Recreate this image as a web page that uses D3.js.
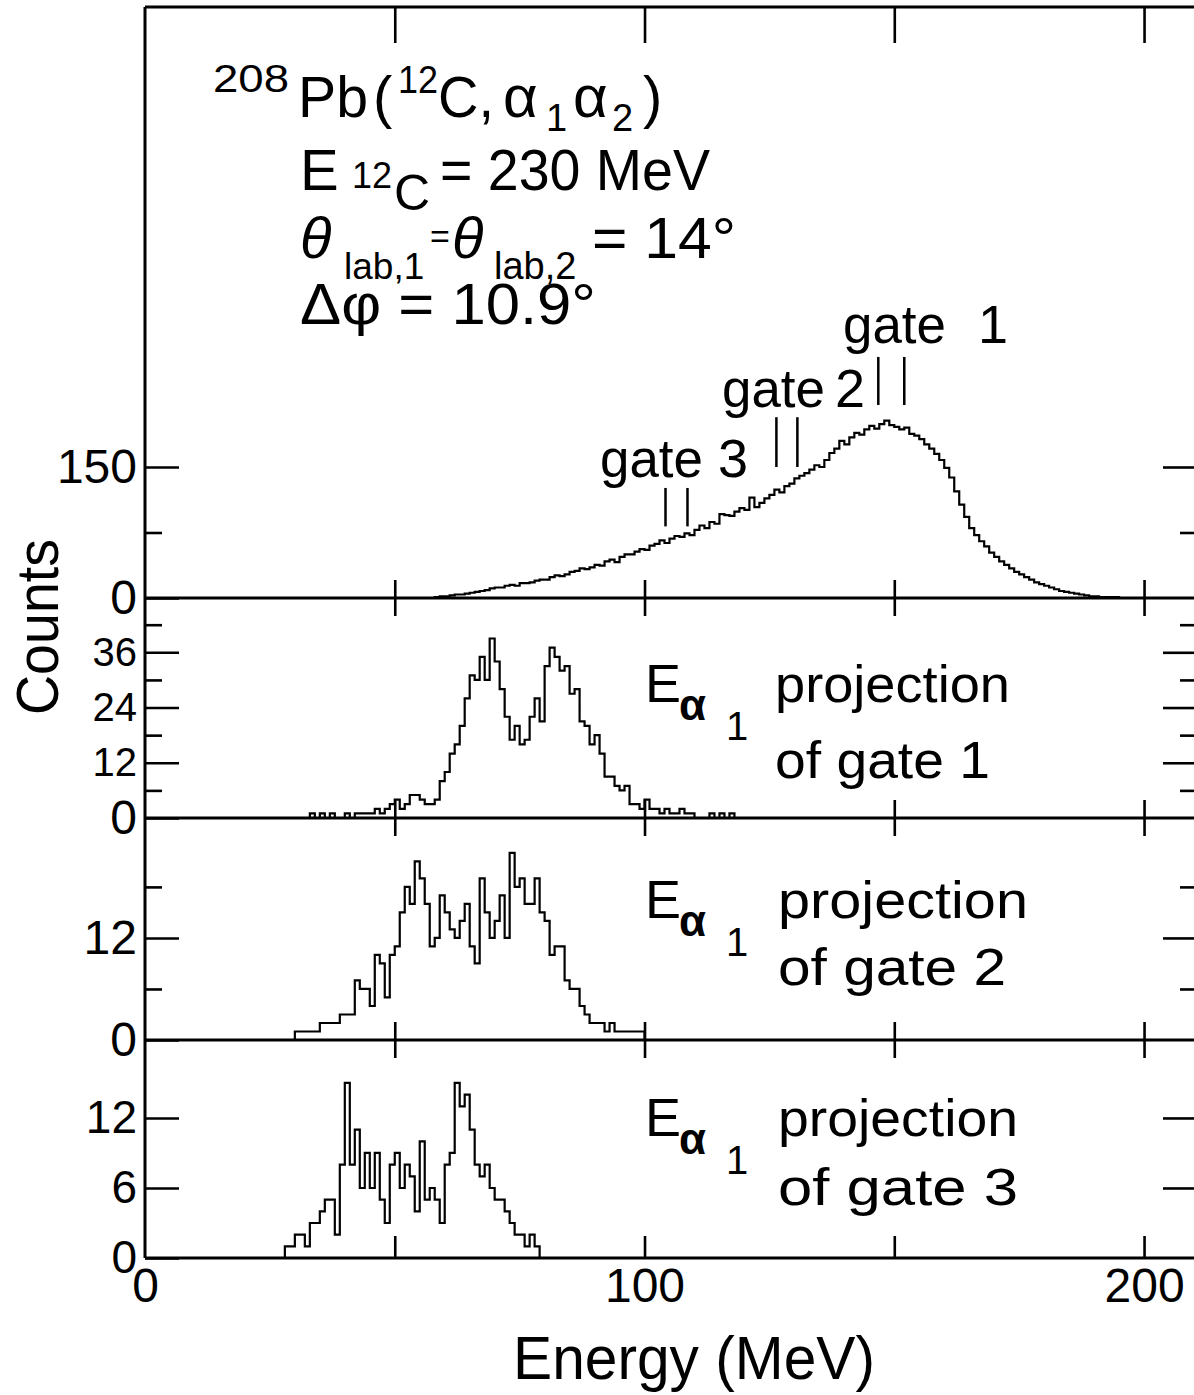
<!DOCTYPE html>
<html>
<head>
<meta charset="utf-8">
<script src="https://cdn.jsdelivr.net/npm/d3@7"></script>
<style>
  body { margin: 0; background: #fff; }
  svg { display: block; }
  text { font-family: "Liberation Sans", Arial, sans-serif; fill: #000; }
</style>
</head>
<body>
<svg id="chart"></svg>
<script>
// energy axis (MeV)
const energyTicks = [0, 50, 100, 150, 200];
const energyLabels = [0, 100, 200];

// singles spectrum, 1 MeV bins starting at 58 MeV
const totalStart = 58;
const totalCounts = [1,2,2,3,4,4,5,6,7,8,
  9,11,12,12,14,15,14,17,17,18,
  20,21,21,24,26,25,27,30,31,34,
  33,35,38,37,42,44,41,47,50,50,
  53,56,55,60,62,66,63,68,71,70,
  74,72,78,83,80,87,85,96,95,94,
  99,103,101,115,104,109,114,118,124,121,
  128,131,137,140,143,147,152,150,158,166,
  171,180,176,184,189,187,193,197,194,199,
  203,198,196,193,195,188,186,182,176,171,
  165,158,149,138,122,107,93,80,72,65,
  59,52,47,42,38,34,30,27,24,21,
  18,16,14,12,10,8,7,6,5,4,
  3,2,2,1,1,1,1,0,0];

// E_alpha1 projections of the three gates
const gate1Start = 33;
const gate1Counts = [1,0,1,0,1,0,0,1,0,1,
  1,1,1,2,1,2,3,4,2,3,
  5,5,4,3,3,4,8,10,14,16,
  20,26,31,30,35,30,39,34,28,22,
  17,20,16,17,22,26,21,33,37,35,
  32,33,27,28,21,20,16,18,14,9,
  9,7,6,7,3,3,2,4,2,2,
  1,2,1,1,2,1,1,0,0,0,
  1,0,1,0,1];
const gate2Start = 30;
const gate2Counts = [1,1,1,1,1,2,2,2,2,3,
  3,3,7,6,6,4,10,9,5,10,
  11,15,18,16,21,19,16,11,12,17,
  15,13,12,14,16,11,9,19,15,12,
  14,17,12,22,18,19,16,16,19,15,
  14,10,11,11,7,6,6,4,3,2,
  2,2,1,2,1,1,1,1,1,1];
const gate3Start = 28;
const gate3Counts = [1,1,2,2,1,3,3,4,5,5,
  2,8,15,8,11,6,9,6,9,5,
  3,8,9,6,8,7,4,10,5,6,
  5,3,8,9,15,13,14,11,8,7,
  8,6,5,5,4,3,2,2,1,2,
  1,0];

// gate windows on the singles spectrum (MeV)
const gateNames = ["gate 1", "gate 2", "gate 3"];
const gateLow = [146.8, 126.4, 104.2];
const gateHigh = [152.0, 130.6, 108.6];

// count axes
const totalMajor = [0, 150];
const totalMinor = [75];
const g1Major = [0, 12, 24, 36];
const g1Minor = [6, 18, 30, 42];
const g2Major = [0, 12];
const g2Minor = [6, 18];
const g3Major = [0, 6, 12];

const W = 1194, H = 1395;
const svg = d3.select("#chart").attr("width", W).attr("height", H);

const xL = 145, xR = 1194;
const x = d3.scaleLinear().domain([0, 210]).range([xL, xR]);

const y1 = d3.scaleLinear().domain([0, 676.7]).range([598, 7]);
const y2 = d3.scaleLinear().domain([0, 47.8]).range([818, 598]);
const y3 = d3.scaleLinear().domain([0, 26.1]).range([1040, 818]);
const y4 = d3.scaleLinear().domain([0, 18.68]).range([1258, 1040]);

function bins(start, counts) {
  const pts = counts.map((c, i) => [start + i, c]);
  pts.unshift([start, 0]);
  pts.push([start + counts.length, 0]);
  return pts;
}

function spectrum(yS, start, counts) {
  const line = d3.line()
    .x(d => x(d[0]))
    .y(d => yS(d[1]))
    .curve(d3.curveStepAfter);
  svg.append("path")
    .attr("d", line(bins(start, counts)))
    .attr("fill", "none")
    .attr("stroke", "#000")
    .attr("stroke-width", 2.2)
    .attr("stroke-linejoin", "miter");
}

function countAxis(yS, major, minor, fontSize, labelled) {
  const left = svg.append("g").attr("transform", `translate(${xL},0)`)
    .call(d3.axisLeft(yS).tickValues(major).tickSize(-34).tickPadding(8)
      .tickFormat(labelled ? d3.format("d") : () => ""));
  left.selectAll("text").style("font-size", fontSize + "px");
  if (minor.length) {
    svg.append("g").attr("transform", `translate(${xL},0)`)
      .call(d3.axisLeft(yS).tickValues(minor).tickSize(-17).tickFormat(() => ""));
  }
  svg.append("g").attr("transform", `translate(${xR},0)`)
    .call(d3.axisRight(yS).tickValues(major.filter(v => v > 0)).tickSize(-31).tickFormat(() => ""));
  if (minor.length) {
    svg.append("g").attr("transform", `translate(${xR},0)`)
      .call(d3.axisRight(yS).tickValues(minor).tickSize(-14).tickFormat(() => ""));
  }
}

countAxis(y1, totalMajor, totalMinor, 48, true);
countAxis(y2, [0], [], 48, true);
countAxis(y2, g1Major.slice(1), g1Minor, 40, true);
countAxis(y3, g2Major, g2Minor, 48, true);
countAxis(y4, g3Major, [], 46, true);

// energy ticks on every panel boundary
svg.append("g").attr("transform", "translate(0,7)")
  .call(d3.axisTop(x).tickValues(energyTicks.slice(1)).tickSize(-36).tickFormat(() => ""));
[598, 818, 1040].forEach(yy => {
  svg.append("g").attr("transform", `translate(0,${yy})`)
    .call(d3.axisBottom(x).tickValues(energyTicks.slice(1)).tickSize(18).tickFormat(() => ""));
  svg.append("g").attr("transform", `translate(0,${yy})`)
    .call(d3.axisTop(x).tickValues(energyTicks.slice(1)).tickSize(18).tickFormat(() => ""));
});
svg.append("g").attr("transform", "translate(0,1258)")
  .call(d3.axisBottom(x).tickValues(energyTicks.slice(1)).tickSize(-22).tickFormat(() => ""));
const xLab = svg.append("g").attr("transform", "translate(0,1258)")
  .call(d3.axisBottom(x).tickValues(energyLabels).tickSize(0).tickPadding(10).tickFormat(d3.format("d")));
xLab.selectAll("text").style("font-size", "48px");

svg.selectAll(".domain").remove();
svg.selectAll(".tick line").attr("stroke", "#000").attr("stroke-width", 2.6);

// frame and zero lines
svg.append("line").attr("x1", xL).attr("x2", xL).attr("y1", 7).attr("y2", 1258)
  .attr("stroke", "#000").attr("stroke-width", 3);
svg.append("line").attr("x1", xL).attr("x2", xR).attr("y1", 7).attr("y2", 7)
  .attr("stroke", "#000").attr("stroke-width", 3);
[598, 818, 1040, 1258].forEach(yy => {
  svg.append("line").attr("x1", xL).attr("x2", xR).attr("y1", yy).attr("y2", yy)
    .attr("stroke", "#000").attr("stroke-width", 3);
});

spectrum(y1, totalStart, totalCounts);
spectrum(y2, gate1Start, gate1Counts);
spectrum(y3, gate2Start, gate2Counts);
spectrum(y4, gate3Start, gate3Counts);

// gate markers
const gateTop = [276, 207, 126];
const gateBottom = [221, 150, 82];
gateNames.forEach((g, i) => {
  [gateLow[i], gateHigh[i]].forEach(e => {
    svg.append("line")
      .attr("x1", x(e)).attr("x2", x(e))
      .attr("y1", y1(gateTop[i])).attr("y2", y1(gateBottom[i]))
      .attr("stroke", "#000").attr("stroke-width", 2.5);
  });
});

function txt(px, py, s, size, opts = {}) {
  const t = svg.append("text").attr("x", px).attr("y", py).text(s)
    .style("font-size", size + "px");
  if (opts.len) t.attr("textLength", opts.len).attr("lengthAdjust", "spacingAndGlyphs");
  if (opts.italic) t.style("font-style", "italic");
  if (opts.bold) t.style("font-weight", "bold");
  if (opts.anchor) t.attr("text-anchor", opts.anchor);
  return t;
}

// gate labels
const gateLabelX = [843, 722, 600];
const gateNumX = [978, 835, 718];
const gateLabelY = [343, 407, 477];
gateNames.forEach((g, i) => {
  txt(gateLabelX[i], gateLabelY[i], "gate", 54, {len: 103});
  txt(gateNumX[i], gateLabelY[i], g.split(" ")[1], 54);
});

// reaction text
txt(213, 92, "208", 38, {len: 76});
txt(298, 117, "Pb", 58, {len: 70});
txt(373, 117, "(", 58);
txt(398, 93, "12", 38, {len: 40});
txt(438, 117, "C,", 58, {len: 56});
txt(503, 117, "α", 60);
txt(546, 131, "1", 38);
txt(573, 117, "α", 60);
txt(612, 131, "2", 38);
txt(643, 117, ")", 58);

txt(300, 190, "E", 58);
txt(352, 188, "12", 36);
txt(394, 210, "C", 50);
txt(440, 190, "= 230 MeV", 58, {len: 270});

txt(300, 258, "θ", 58, {italic: true});
txt(344, 279, "lab,1", 37);
txt(430, 248, "=", 34);
txt(452, 258, "θ", 58, {italic: true});
txt(494, 279, "lab,2", 38);
txt(592, 258, "= 14°", 58, {len: 144});

txt(300, 324, "Δφ = 10.9°", 58, {len: 296});

// projection labels
const projY = [702, 918, 1136];
const projY2 = [778, 985, 1205];
const projX = [775, 778, 778];
const projLen = [235, 250, 240];
const ofLen = [215, 228, 240];
gateNames.forEach((g, i) => {
  txt(645, projY[i], "E", 54);
  txt(679, projY[i] + 18, "α", 44, {bold: true});
  txt(726, projY[i] + 38, "1", 40);
  txt(projX[i], projY[i], "projection", 52, {len: projLen[i]});
  txt(projX[i], projY2[i], "of " + g, 52, {len: ofLen[i]});
});

// axis titles
svg.append("text")
  .attr("transform", "translate(58,627) rotate(-90)")
  .attr("text-anchor", "middle")
  .attr("textLength", 176).attr("lengthAdjust", "spacingAndGlyphs")
  .style("font-size", "60px")
  .text("Counts");
txt(513, 1379, "Energy (MeV)", 62, {len: 362});
</script>
</body>
</html>
